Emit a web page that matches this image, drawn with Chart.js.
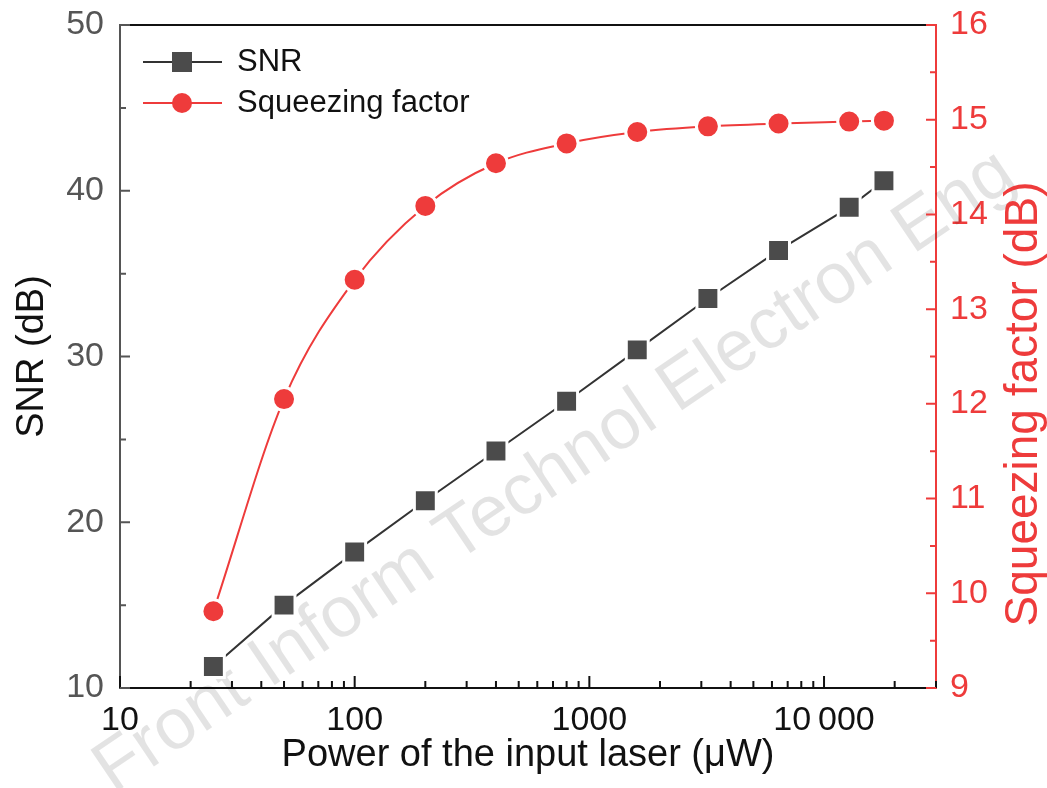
<!DOCTYPE html>
<html>
<head>
<meta charset="utf-8">
<script src="https://cdn.jsdelivr.net/npm/chart.js@4"></script>
<style>
  body { margin: 0; background: #fff; }
  #wrap { width: 1047px; height: 788px; }
</style>
</head>
<body>
<div id="wrap"><canvas id="chart-canvas" width="1047" height="788"></canvas></div>
<script>
(function(){

  // data
  const power = [25, 50, 100, 200, 400, 800, 1600, 3200, 6400, 12800, 18000];
  const snr = [11.3, 15.0, 18.2, 21.3, 24.3, 27.3, 30.4, 33.5, 36.4, 39.0, 40.6];
  const squeezing = [9.81, 12.05, 13.31, 14.09, 14.54, 14.75, 14.87, 14.93, 14.96, 14.98, 14.99];

  const xMajor = [10, 100, 1000, 10000];
  const snrTicks = [10, 20, 30, 40, 50];
  const sqTicks = [9, 10, 11, 12, 13, 14, 15, 16];

  const FONT = '"Liberation Sans", Arial, sans-serif';
  const RED = '#ee3b3b';
  const DARK = '#4b4b4b';

  const xMinor = [];
  [10, 100, 1000, 10000].forEach(d => {
    for (let k = 2; k <= 9; k++) if (d * k <= 30000) xMinor.push(d * k);
  });

  // no extra room for tick label overflow, the plot box is fixed
  const noPad = s => { s.paddingTop = 0; s.paddingBottom = 0; s.paddingLeft = 0; s.paddingRight = 0; };

  // inward ticks, top frame line, watermark, legend, right title
  const decorPlugin = {
    id: 'decor',
    beforeDatasetsDraw(chart) {
      const ctx = chart.ctx;
      ctx.save();
      ctx.translate(555, 472);
      ctx.rotate(-34 * Math.PI / 180);
      ctx.font = '72px ' + FONT;
      ctx.fillStyle = 'rgba(0,0,0,0.11)';
      ctx.textAlign = 'center';
      ctx.textBaseline = 'middle';
      ctx.fillText('Front Inform Technol Electron Eng', 0, 0);
      ctx.restore();
    },
    afterDraw(chart) {
      const { ctx, chartArea: a, scales } = chart;
      const x = scales.x, yl = scales.y, yr = scales.y1;
      ctx.save();
      ctx.lineWidth = 2;

      // top frame
      ctx.strokeStyle = '#111';
      ctx.beginPath();
      ctx.moveTo(a.left, a.top);
      ctx.lineTo(a.right, a.top);
      ctx.stroke();

      const tick = (color, list) => {
        ctx.strokeStyle = color;
        ctx.beginPath();
        list.forEach(([x0, y0, x1, y1]) => { ctx.moveTo(x0, y0); ctx.lineTo(x1, y1); });
        ctx.stroke();
      };

      // x ticks (point up into the plot)
      tick('#111', xMajor.map(v => { const p = x.getPixelForValue(v); return [p, a.bottom, p, a.bottom - 12]; })
        .concat(xMinor.map(v => { const p = x.getPixelForValue(v); return [p, a.bottom, p, a.bottom - 7]; })));

      // left ticks
      const lt = [];
      snrTicks.forEach(v => { const p = yl.getPixelForValue(v); lt.push([a.left, p, a.left + 10, p]); });
      snrTicks.slice(0, -1).forEach(v => { const p = yl.getPixelForValue(v + 5); lt.push([a.left, p, a.left + 6, p]); });
      tick('#555', lt);

      // right ticks
      const rt = [];
      sqTicks.forEach(v => { const p = yr.getPixelForValue(v); rt.push([a.right, p, a.right - 10, p]); });
      sqTicks.slice(0, -1).forEach(v => { const p = yr.getPixelForValue(v + 0.5); rt.push([a.right, p, a.right - 6, p]); });
      tick(RED, rt);

      // right axis title, reading bottom to top
      ctx.save();
      ctx.translate(1024, 404);
      ctx.rotate(-Math.PI / 2);
      ctx.font = '46px ' + FONT;
      ctx.fillStyle = RED;
      ctx.textAlign = 'center';
      ctx.textBaseline = 'middle';
      ctx.fillText('Squeezing factor (dB)', 0, 0);
      ctx.restore();

      // legend
      const rows = [
        { label: 'SNR', y: 62, line: '#333', style: 'rect', color: DARK },
        { label: 'Squeezing factor', y: 103, line: RED, style: 'circle', color: RED }
      ];
      ctx.font = '31px ' + FONT;
      ctx.textBaseline = 'middle';
      ctx.textAlign = 'left';
      rows.forEach(r => {
        ctx.strokeStyle = r.line;
        ctx.lineWidth = 2;
        ctx.beginPath();
        ctx.moveTo(143, r.y); ctx.lineTo(222, r.y);
        ctx.stroke();
        ctx.fillStyle = r.color;
        if (r.style === 'rect') {
          ctx.fillRect(172, r.y - 10, 20, 20);
        } else {
          ctx.beginPath();
          ctx.arc(182, r.y, 10, 0, Math.PI * 2);
          ctx.fill();
        }
        ctx.fillStyle = '#111';
        ctx.fillText(r.label, 237, r.y);
      });
      ctx.restore();
    }
  };

  const context = document.querySelector('#chart-canvas').getContext('2d');

  const config = {
    type: 'line',
    data: {
      datasets: [
        {
          label: 'SNR',
          data: power.map((p, i) => ({ x: p, y: snr[i] })),
          yAxisID: 'y',
          borderColor: '#333',
          borderWidth: 2,
          pointStyle: 'rect',
          pointRadius: 15.5,
          pointBackgroundColor: DARK,
          pointBorderColor: '#fff',
          pointBorderWidth: 3
        },
        {
          label: 'Squeezing factor',
          data: power.map((p, i) => ({ x: p, y: squeezing[i] })),
          yAxisID: 'y1',
          borderColor: RED,
          borderWidth: 2,
          cubicInterpolationMode: 'monotone',
          pointStyle: 'circle',
          pointRadius: 11.5,
          pointBackgroundColor: RED,
          pointBorderColor: '#fff',
          pointBorderWidth: 3
        }
      ]
    },
    options: {
      responsive: false,
      animation: false,
      layout: { padding: { top: 25, left: 0, right: 0, bottom: 0 } },
      plugins: { legend: { display: false }, tooltip: { enabled: false } },
      scales: {
        x: {
          type: 'logarithmic',
          position: 'bottom',
          min: 10,
          max: 30000,
          grid: { display: false, drawTicks: false },
          border: { display: true, color: '#111', width: 2 },
          afterBuildTicks: s => { s.ticks = xMajor.map(v => ({ value: v })); },
          afterFit: s => { s.height = 100; noPad(s); },
          ticks: {
            color: '#111',
            font: { size: 34, family: FONT },
            padding: 12,
            maxRotation: 0,
            autoSkip: false,
            callback: v => v === 10000 ? '10\u2009000' : String(v)
          },
          title: {
            display: true,
            text: 'Power of the input laser (μW)',
            color: '#111',
            font: { size: 38, family: FONT },
            padding: { top: 0, bottom: 10 }
          }
        },
        y: {
          position: 'left',
          min: 10,
          max: 50,
          grid: { display: false, drawTicks: false },
          border: { display: true, color: '#555', width: 2 },
          afterBuildTicks: s => { s.ticks = snrTicks.map(v => ({ value: v })); },
          afterFit: s => { s.width = 120; noPad(s); },
          ticks: { color: '#555', font: { size: 34, family: FONT }, padding: 16 },
          title: {
            display: true,
            text: 'SNR (dB)',
            color: '#111',
            font: { size: 38, family: FONT },
            padding: { top: 10, bottom: 0 }
          }
        },
        y1: {
          position: 'right',
          min: 9,
          max: 16,
          grid: { display: false, drawTicks: false },
          border: { display: true, color: RED, width: 2 },
          afterBuildTicks: s => { s.ticks = sqTicks.map(v => ({ value: v })); },
          afterFit: s => { s.width = 111; noPad(s); },
          ticks: { color: RED, font: { size: 34, family: FONT }, padding: 14 }
        }
      }
    },
    plugins: [decorPlugin]
  };

  new Chart(context, config);
})();
</script>
</body>
</html>
